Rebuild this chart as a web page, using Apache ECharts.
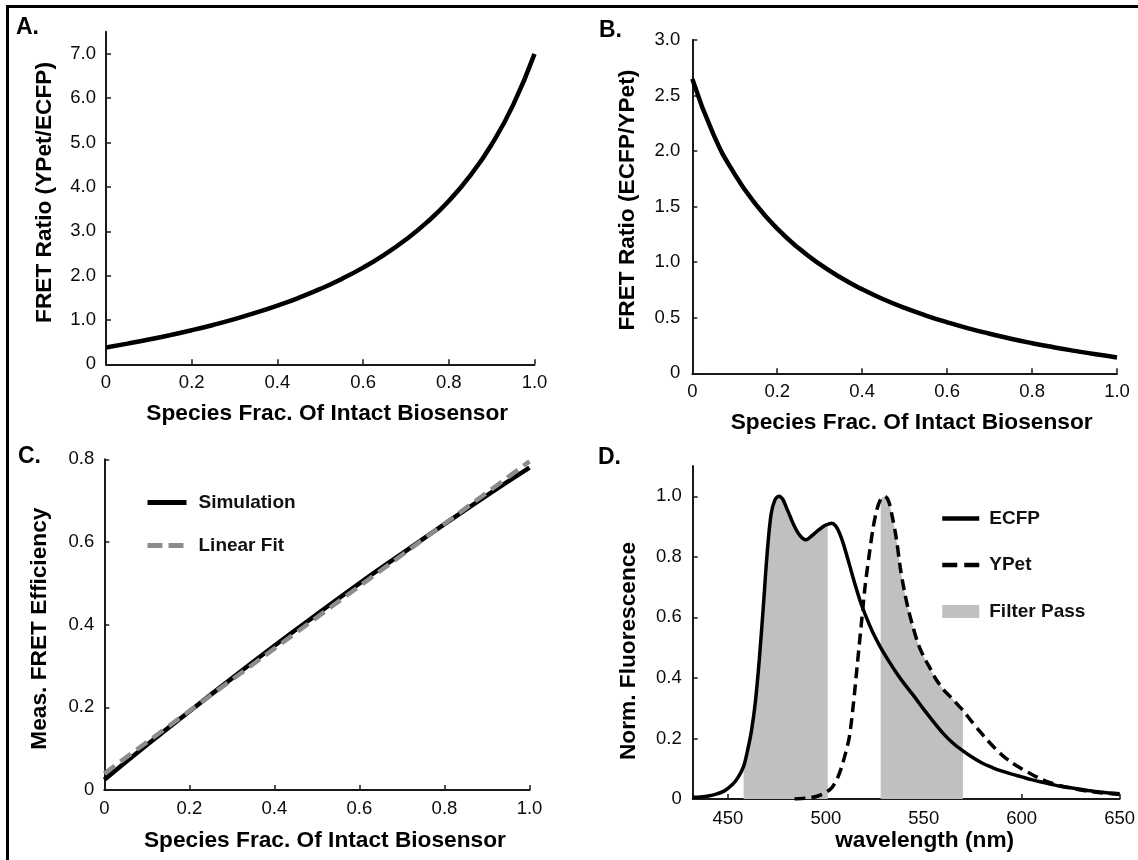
<!DOCTYPE html>
<html><head><meta charset="utf-8">
<script src="https://cdn.jsdelivr.net/npm/echarts@6/dist/echarts.min.js"></script>
<style>html,body{margin:0;padding:0;background:#fff}#c{width:1138px;height:860px}</style>
</head><body><div id="c"></div>
<script>
// ---------- data ----------
const fracA = [0,0.05,0.1,0.15,0.2,0.25,0.3,0.35,0.4,0.45,0.5,0.55,0.6,0.65,0.7,0.75,0.8,0.85,0.9,0.95,1.0];
const ratioYPetECFP = [0.38,0.466,0.558,0.659,0.768,0.887,1.018,1.163,1.323,1.500,1.700,1.925,2.180,2.473,2.813,3.211,3.683,4.254,4.957,5.845,7.0];
const ratioECFPYPet = [2.65,2.148,1.791,1.518,1.302,1.127,0.982,0.860,0.756,0.666,0.588,0.520,0.459,0.404,0.356,0.311,0.271,0.235,0.202,0.171,0.143];

const fracC = [0,0.1,0.2,0.3,0.4,0.5,0.6,0.7,0.8,0.9,1.0];
const simulation = [0.025,0.109,0.190,0.270,0.349,0.425,0.500,0.572,0.643,0.713,0.780];
const fitFrac = [0,1.0];
const linearFit = [0.04,0.795];

const ecfpWl = [432,436,440,444,448,452,455,458,460,462,464,466,468,470,472,474,476,478,480,482,484,486,488,490,492,494,496,498,500,501,503,505,507,509,512,515,518,521,524,528,532,536,540,545,550,555,560,565,570,575,580,585,590,595,600,605,610,615,620,625,630,635,640,645,650];
const ecfpVal = [0.006,0.007,0.01,0.016,0.026,0.046,0.07,0.108,0.16,0.225,0.32,0.46,0.63,0.81,0.94,0.988,1.0,0.99,0.96,0.93,0.90,0.877,0.862,0.856,0.865,0.876,0.887,0.897,0.905,0.907,0.911,0.902,0.878,0.842,0.775,0.707,0.645,0.595,0.55,0.50,0.457,0.417,0.381,0.34,0.296,0.255,0.216,0.184,0.159,0.137,0.118,0.104,0.092,0.082,0.073,0.064,0.056,0.049,0.042,0.037,0.032,0.027,0.023,0.02,0.017];
const ypetWl = [484,488,492,496,500,503,506,508,510,512,514,516,518,520,522,524,526,528,530,532,534,536,538,540,542,544,547,550,553,556,560,564,568,570,574,578,582,586,590,595,600,605,610,615,620,625,630,635,640,645,650];
const ypetVal = [0.0,0.002,0.004,0.01,0.022,0.037,0.07,0.105,0.15,0.205,0.31,0.44,0.57,0.70,0.80,0.89,0.955,0.99,1.0,0.985,0.93,0.86,0.765,0.69,0.63,0.58,0.515,0.47,0.435,0.398,0.362,0.335,0.307,0.293,0.26,0.228,0.198,0.17,0.145,0.12,0.1,0.082,0.066,0.053,0.043,0.036,0.03,0.025,0.021,0.018,0.015];
const filterBandLo = [458, 528];
const filterBandHi = [501, 570];
const filterBandCurve = ['ECFP', 'YPet'];

const fracTicks = [0,0.2,0.4,0.6,0.8,1.0];
const ticksAy = [0,1,2,3,4,5,6,7];
const ticksBy = [0,0.5,1.0,1.5,2.0,2.5,3.0];
const ticksCy = [0,0.2,0.4,0.6,0.8];
const ticksDx = [450,500,550,600,650];
const ticksDy = [0,0.2,0.4,0.6,0.8,1.0];

// ---------- build ----------
const FONT = "'Liberation Sans', Arial, Helvetica, sans-serif";
const pairs = (xs, ys) => xs.map((x, i) => [x, ys[i]]);
const fmtDec = v => (v === 0 ? '0' : v.toFixed(1));

const curves = { ECFP: [ecfpWl, ecfpVal], YPet: [ypetWl, ypetVal] };
const filterData = [];
filterBandLo.forEach((lo, b) => {
  const [wl, val] = curves[filterBandCurve[b]];
  if (b > 0) filterData.push([(filterBandHi[b - 1] + lo) / 2, null]);
  wl.forEach((w, i) => { if (w >= lo && w <= filterBandHi[b]) filterData.push([w, val[i]]); });
});

function axisBase(ticks, fmt, margin) {
  return {
    type: 'value',
    axisLine: { show: true, onZero: false, lineStyle: { color: '#1a1a1a', width: 2 } },
    axisTick: { show: true, inside: true, length: 5, customValues: ticks, lineStyle: { color: '#1a1a1a', width: 1.5 } },
    axisLabel: { customValues: ticks, formatter: fmt, fontSize: 18.5, color: '#0a0a0a', fontFamily: FONT, margin: margin },
    splitLine: { show: false },
    nameLocation: 'middle'
  };
}
function nameStyle(pad) {
  return { fontSize: 22.7, fontWeight: 'bold', color: '#000', fontFamily: FONT, padding: pad };
}
const xName = 'Species Frac. Of Intact Biosensor';

const xAxes = [
  Object.assign(axisBase(fracTicks, fmtDec, 9), { gridIndex: 0, min: 0, max: 1, interval: 0.2, name: xName, nameGap: 38, nameTextStyle: nameStyle([0, 0, 0, 14]) }),
  Object.assign(axisBase(fracTicks, fmtDec, 9), { gridIndex: 1, min: 0, max: 1, interval: 0.2, name: xName, nameGap: 38, nameTextStyle: nameStyle([0, 0, 0, 14]) }),
  Object.assign(axisBase(fracTicks, fmtDec, 9), { gridIndex: 2, min: 0, max: 1, interval: 0.2, name: xName, nameGap: 39, nameTextStyle: nameStyle([0, 0, 0, 16]) }),
  Object.assign(axisBase(ticksDx, v => String(v), 10), { gridIndex: 3, min: 432, max: 650, name: 'wavelength (nm)', nameGap: 30, nameTextStyle: nameStyle([0, 0, 0, 37]) })
];
const yAxes = [
  Object.assign(axisBase(ticksAy, fmtDec, 10), { gridIndex: 0, min: 0, max: 7.5, interval: 1, name: 'FRET Ratio (YPet/ECFP)', nameGap: 50, nameTextStyle: nameStyle([0, 0, 0, 11]) }),
  Object.assign(axisBase(ticksBy, fmtDec, 12), { gridIndex: 1, min: 0, max: 3, interval: 0.5, name: 'FRET Ratio (ECFP/YPet)', nameGap: 53, nameTextStyle: nameStyle([0, 0, 0, 13]) }),
  Object.assign(axisBase(ticksCy, fmtDec, 10), { gridIndex: 2, min: 0, max: 0.8, interval: 0.2, name: 'Meas. FRET Efficiency', nameGap: 53, nameTextStyle: nameStyle([0, 8, 0, 0]) }),
  Object.assign(axisBase(ticksDy, fmtDec, 11), { gridIndex: 3, min: 0, max: 1.1, interval: 0.2, name: 'Norm. Fluorescence', nameGap: 52, nameTextStyle: nameStyle([0, 37, 0, 0]) })
];

const lineCommon = { type: 'line', symbol: 'none', showSymbol: false, animation: false };
const hiddenSymbol = { color: 'rgba(0,0,0,0)', borderColor: 'rgba(0,0,0,0)', borderWidth: 0 };

const option = {
  backgroundColor: '#fff',
  animation: false,
  grid: [
    { left: 106, top: 31.7, width: 428.5, height: 332.6 },
    { left: 692.3, top: 40, width: 424.7, height: 333.3 },
    { left: 104.3, top: 459.3, width: 425.2, height: 330.7 },
    { left: 692.7, top: 466, width: 427.3, height: 333 }
  ],
  xAxis: xAxes,
  yAxis: yAxes,
  legend: [
    { data: [
        { name: 'Simulation', lineStyle: { color: '#000', width: 5, type: 'solid' } },
        { name: 'Linear Fit', lineStyle: { color: '#8c8c8c', width: 5, type: [15, 6] } }
      ],
      orient: 'vertical', left: 145, top: 493, padding: 0, itemWidth: 39, itemHeight: 14, itemGap: 24,
      itemStyle: hiddenSymbol,
      textStyle: { fontSize: 19, fontWeight: 'bold', color: '#111', fontFamily: FONT, padding: [0, 0, 0, 7] }, selectedMode: false },
    { data: [
        { name: 'ECFP', lineStyle: { color: '#000', width: 4.5, type: 'solid' } },
        { name: 'YPet', lineStyle: { color: '#000', width: 4.5, type: [15, 7] } },
        { name: 'Filter Pass', icon: 'rect', itemStyle: { color: '#c0c0c0', borderWidth: 0 } }
      ],
      orient: 'vertical', left: 940, top: 509, padding: 0, itemWidth: 37, itemHeight: 13, itemGap: 27.5,
      itemStyle: hiddenSymbol,
      textStyle: { fontSize: 19, fontWeight: 'bold', color: '#111', fontFamily: FONT, padding: [0, 0, 0, 5] }, selectedMode: false }
  ],
  series: [
    Object.assign({}, lineCommon, { name: 'A', xAxisIndex: 0, yAxisIndex: 0, smooth: true, data: pairs(fracA, ratioYPetECFP), lineStyle: { color: '#000', width: 4.5 }, itemStyle: { color: '#000' } }),
    Object.assign({}, lineCommon, { name: 'B', xAxisIndex: 1, yAxisIndex: 1, smooth: true, data: pairs(fracA, ratioECFPYPet), lineStyle: { color: '#000', width: 4.5 }, itemStyle: { color: '#000' } }),
    Object.assign({}, lineCommon, { name: 'Simulation', xAxisIndex: 2, yAxisIndex: 2, smooth: true, data: pairs(fracC, simulation), lineStyle: { color: '#000', width: 4.5 }, itemStyle: { color: '#000' } }),
    Object.assign({}, lineCommon, { name: 'Linear Fit', xAxisIndex: 2, yAxisIndex: 2, data: pairs(fitFrac, linearFit), lineStyle: { color: '#8c8c8c', width: 4.5, type: [13, 7] }, itemStyle: { color: '#8c8c8c' } }),
    Object.assign({}, lineCommon, { name: 'Filter Pass', xAxisIndex: 3, yAxisIndex: 3, smooth: 0.3, connectNulls: false, data: filterData, lineStyle: { width: 0, color: '#c0c0c0' }, itemStyle: { color: '#c0c0c0' }, areaStyle: { color: '#c0c0c0', opacity: 1 }, z: 1 }),
    Object.assign({}, lineCommon, { name: 'ECFP', xAxisIndex: 3, yAxisIndex: 3, smooth: 0.3, data: pairs(ecfpWl, ecfpVal), lineStyle: { color: '#000', width: 3.5 }, itemStyle: { color: '#000' }, z: 3 }),
    Object.assign({}, lineCommon, { name: 'YPet', xAxisIndex: 3, yAxisIndex: 3, smooth: 0.3, data: pairs(ypetWl, ypetVal), lineStyle: { color: '#000', width: 3.5, type: [11, 6] }, itemStyle: { color: '#000' }, z: 3 })
  ],
  graphic: [
    { type: 'rect', silent: true, shape: { x: 7.5, y: 6.5, width: 1400, height: 1000 }, style: { fill: 'transparent', stroke: '#000', lineWidth: 3 } },
    { type: 'text', silent: true, x: 16, y: 28, style: { text: 'A.', font: "bold 23px 'Liberation Sans', Arial, sans-serif", fill: '#000', verticalAlign: 'middle' } },
    { type: 'text', silent: true, x: 599, y: 31, style: { text: 'B.', font: "bold 23px 'Liberation Sans', Arial, sans-serif", fill: '#000', verticalAlign: 'middle' } },
    { type: 'text', silent: true, x: 18, y: 457, style: { text: 'C.', font: "bold 23px 'Liberation Sans', Arial, sans-serif", fill: '#000', verticalAlign: 'middle' } },
    { type: 'text', silent: true, x: 598, y: 458, style: { text: 'D.', font: "bold 23px 'Liberation Sans', Arial, sans-serif", fill: '#000', verticalAlign: 'middle' } }
  ]
};

const chart = echarts.init(document.getElementById('c'), null, { renderer: 'canvas' });
chart.setOption(option);
</script></body></html>
